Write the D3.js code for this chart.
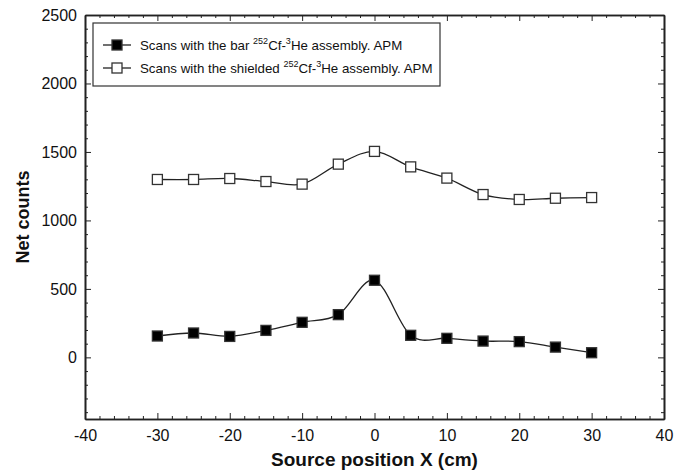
<!DOCTYPE html>
<html>
<head>
<meta charset="utf-8">
<script src="https://cdn.jsdelivr.net/npm/d3@7"></script>
<style>
  body { margin: 0; background: #fff; }
  svg { font-family: "Liberation Sans", Arial, sans-serif; }
</style>
</head>
<body>
<svg id="chart" width="686" height="474"></svg>
<script>
// source positions (cm)
const positions = [-30, -25, -20, -15, -10, -5, 0, 5, 10, 15, 20, 25, 30];
// bar 252Cf-3He assembly
const barCounts = [156, 178, 153, 197, 256, 312, 563, 161, 139, 119, 115, 75, 34];
// shielded 252Cf-3He assembly
const shieldedCounts = [1299, 1299, 1306, 1284, 1265, 1411, 1504, 1391, 1309, 1189, 1153, 1162, 1167];

const xTicks = [-40, -30, -20, -10, 0, 10, 20, 30, 40];
const yTicks = [0, 500, 1000, 1500, 2000, 2500];

const svg = d3.select("#chart");
const margin = { left: 85, right: 22, top: 15, bottom: 55 };
const W = 686, H = 474;

const x = d3.scaleLinear().domain([-40, 40]).range([margin.left, W - margin.right]);
const y = d3.scaleLinear().domain([-450, 2500]).range([H - margin.bottom, margin.top]);

// minor ticks
const xMinor = d3.range(-40, 41, 2).filter(v => v % 10 !== 0);
const yMinor = d3.range(-400, 2501, 100).filter(v => v % 500 !== 0);

const fmt = d => String(d); // plain hyphen minus like the original

const g = svg.append("g");

// bottom axis with inward ticks
const axBottom = g.append("g").attr("transform", `translate(0,${y.range()[0]})`);
axBottom.call(d3.axisBottom(x).tickValues(xTicks).tickSizeInner(-6).tickSizeOuter(0).tickPadding(11).tickFormat(fmt));
axBottom.append("g").call(d3.axisBottom(x).tickValues(xMinor).tickSizeInner(-3).tickSizeOuter(0).tickFormat(""));

const axTop = g.append("g").attr("transform", `translate(0,${y.range()[1]})`);
axTop.call(d3.axisTop(x).tickValues(xTicks).tickSizeInner(-6).tickSizeOuter(0).tickFormat(""));
axTop.append("g").call(d3.axisTop(x).tickValues(xMinor).tickSizeInner(-3).tickSizeOuter(0).tickFormat(""));

const axLeft = g.append("g").attr("transform", `translate(${x.range()[0]},0)`);
axLeft.call(d3.axisLeft(y).tickValues(yTicks).tickSizeInner(-6).tickSizeOuter(0).tickPadding(8).tickFormat(fmt));
axLeft.append("g").call(d3.axisLeft(y).tickValues(yMinor).tickSizeInner(-3).tickSizeOuter(0).tickFormat(""));

const axRight = g.append("g").attr("transform", `translate(${x.range()[1]},0)`);
axRight.call(d3.axisRight(y).tickValues(yTicks).tickSizeInner(-6).tickSizeOuter(0).tickFormat(""));
axRight.append("g").call(d3.axisRight(y).tickValues(yMinor).tickSizeInner(-3).tickSizeOuter(0).tickFormat(""));

g.selectAll(".domain").attr("stroke", "#222").attr("stroke-width", 1.6);
g.selectAll(".tick line").attr("stroke", "#222").attr("stroke-width", 1);
g.selectAll(".tick text").attr("font-size", 16).attr("fill", "#111")
  .attr("font-family", "'Liberation Sans', Arial, sans-serif");

// axis titles
svg.append("text")
  .attr("x", (x.range()[0] + x.range()[1]) / 2)
  .attr("y", 466)
  .attr("text-anchor", "middle")
  .attr("font-size", 19).attr("font-weight", "bold").attr("fill", "#111")
  .text("Source position X (cm)");

svg.append("text")
  .attr("transform", `translate(29,${(y.range()[0] + y.range()[1]) / 2}) rotate(-90)`)
  .attr("text-anchor", "middle")
  .attr("font-size", 18).attr("font-weight", "bold").attr("fill", "#111")
  .text("Net counts");

// lines
const line = d3.line()
  .x(d => x(d[0]))
  .y(d => y(d[1]))
  .curve(d3.curveCatmullRom.alpha(0));

const series = [
  { values: barCounts, fill: "#000" },
  { values: shieldedCounts, fill: "#fff" }
];

const sq = 10;
series.forEach(s => {
  const pts = positions.map((p, i) => [p, s.values[i]]);
  svg.append("path")
    .datum(pts)
    .attr("d", line)
    .attr("fill", "none")
    .attr("stroke", "#222")
    .attr("stroke-width", 1.3);
  svg.selectAll(null)
    .data(pts)
    .enter()
    .append("rect")
    .attr("x", d => x(d[0]) - sq / 2)
    .attr("y", d => y(d[1]) - sq / 2)
    .attr("width", sq)
    .attr("height", sq)
    .attr("fill", s.fill)
    .attr("stroke", "#333")
    .attr("stroke-width", 1.3);
});

// legend
const legend = svg.append("g");
legend.append("rect")
  .attr("x", 93).attr("y", 23).attr("width", 347).attr("height", 63)
  .attr("fill", "#fff").attr("stroke", "#333").attr("stroke-width", 1.2);

const legendItems = [
  { label: "Scans with the bar ", fill: "#000" },
  { label: "Scans with the shielded ", fill: "#fff" }
];
legendItems.forEach((it, i) => {
  const ly = 45 + i * 23;
  legend.append("line")
    .attr("x1", 103).attr("x2", 131).attr("y1", ly).attr("y2", ly)
    .attr("stroke", "#222").attr("stroke-width", 1.3);
  legend.append("rect")
    .attr("x", 117 - sq / 2).attr("y", ly - sq / 2)
    .attr("width", sq).attr("height", sq)
    .attr("fill", it.fill).attr("stroke", "#333").attr("stroke-width", 1.3);
  const t = legend.append("text")
    .attr("x", 140).attr("y", ly + 5)
    .attr("font-size", 13.3).attr("fill", "#111");
  t.append("tspan").text(it.label);
  t.append("tspan").attr("dy", -6).attr("font-size", 9).text("252");
  t.append("tspan").attr("dy", 6).text("Cf-");
  t.append("tspan").attr("dy", -6).attr("font-size", 9).text("3");
  t.append("tspan").attr("dy", 6).text("He assembly. APM");
});
</script>
</body>
</html>
